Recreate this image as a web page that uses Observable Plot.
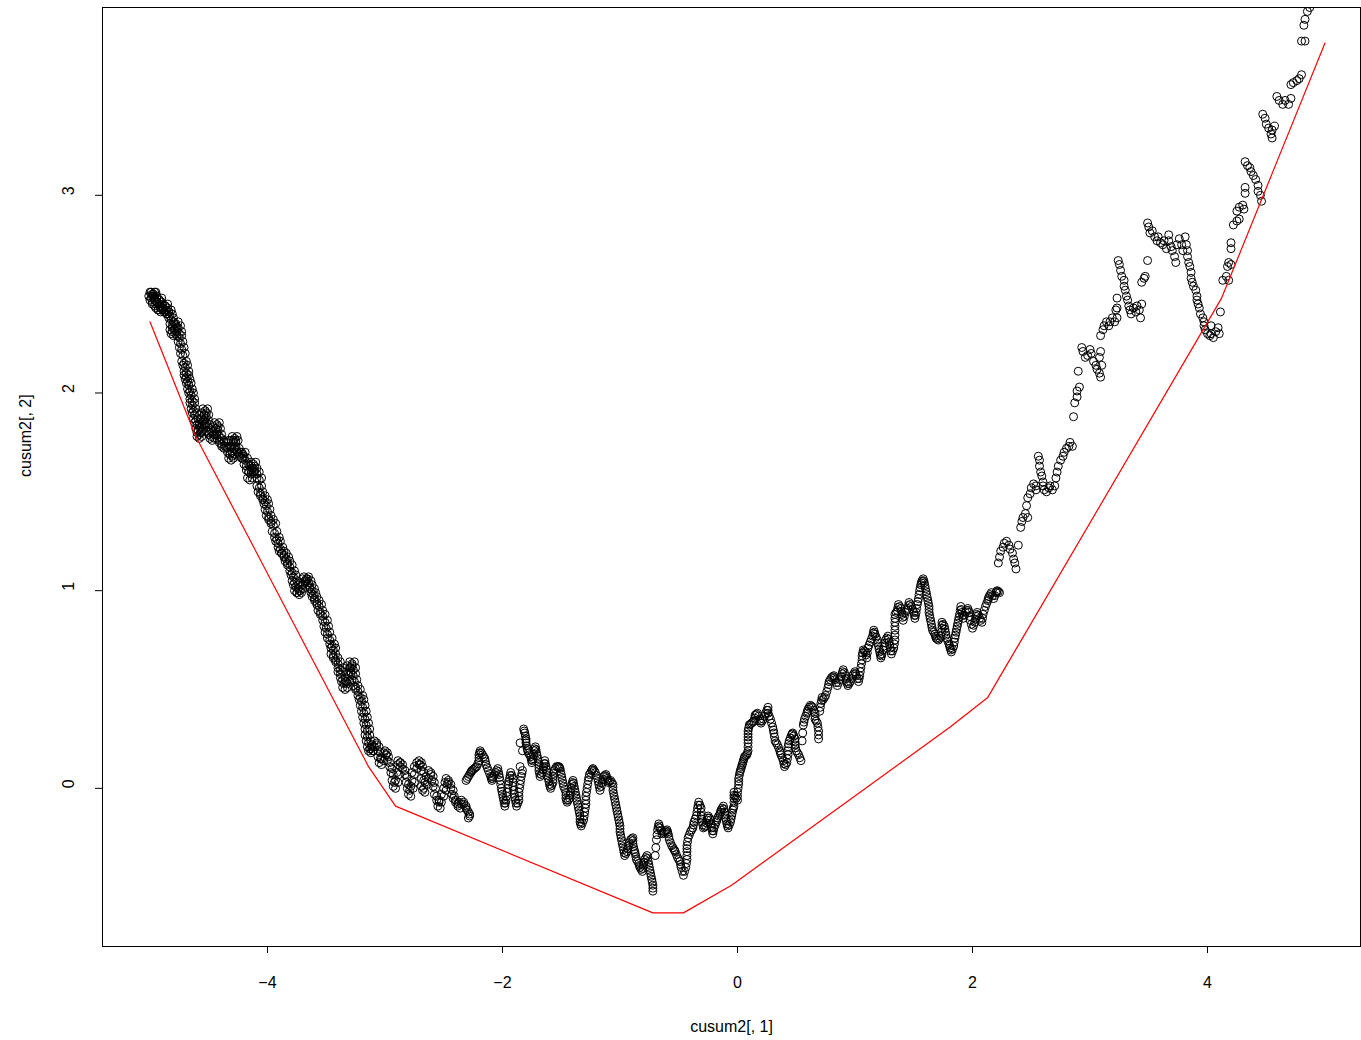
<!DOCTYPE html>
<html><head><meta charset="utf-8">
<script src="https://cdn.jsdelivr.net/npm/d3@7"></script>
<script src="https://cdn.jsdelivr.net/npm/@observablehq/plot@0.6"></script>
<style>body{margin:0;background:#fff}</style>
</head><body><div id="chart"></div>
<script>
// cusum2[,1], cusum2[,2], in order along the walk
const segA = [[-5.01,2.49],[-5.00,2.51],[-4.99,2.51],[-4.98,2.49],[-5.00,2.47],[-4.98,2.45],[-4.96,2.47],[-4.94,2.48],[-4.94,2.46],[-4.95,2.43],[-4.93,2.42],[-4.91,2.44],[-4.89,2.45],[-4.89,2.43],[-4.88,2.41],[-4.86,2.42],[-4.85,2.40],[-4.84,2.38],[-4.83,2.35],[-4.83,2.32],[-4.82,2.30],[-4.81,2.33],[-4.80,2.36],[-4.78,2.34],[-4.77,2.31],[-4.77,2.29],[-4.76,2.26],[-4.75,2.23],[-4.74,2.20],[-4.73,2.16],[-4.72,2.14],[-4.71,2.11],[-4.71,2.09],[-4.70,2.07],[-4.69,2.05],[-4.68,2.02],[-4.67,2.00],[-4.66,1.97],[-4.66,1.95],[-4.65,1.92],[-4.64,1.90],[-4.63,1.87],[-4.62,1.85],[-4.61,1.82],[-4.60,1.80],[-4.60,1.78],[-4.59,1.81],[-4.58,1.84],[-4.57,1.87],[-4.56,1.90],[-4.55,1.92],[-4.54,1.89],[-4.54,1.86],[-4.53,1.84],[-4.52,1.81],[-4.50,1.79],[-4.49,1.77],[-4.47,1.80],[-4.46,1.83],[-4.45,1.85],[-4.44,1.82],[-4.43,1.79],[-4.43,1.77],[-4.41,1.75],[-4.39,1.73],[-4.37,1.76],[-4.36,1.73],[-4.34,1.70],[-4.33,1.67],[-4.32,1.69],[-4.31,1.73],[-4.31,1.76],[-4.30,1.78],[-4.29,1.76],[-4.28,1.72],[-4.26,1.70],[-4.24,1.68],[-4.23,1.70],[-4.21,1.67],[-4.20,1.64],[-4.18,1.61],[-4.17,1.57],[-4.16,1.60],[-4.15,1.63],[-4.14,1.65],[-4.13,1.62],[-4.11,1.60],[-4.09,1.57],[-4.09,1.53],[-4.08,1.50],[-4.06,1.48],[-4.04,1.46],[-4.03,1.44],[-4.02,1.41],[-4.01,1.38],[-3.99,1.36],[-3.97,1.34],[-3.96,1.30],[-3.94,1.27],[-3.93,1.25],[-3.91,1.22],[-3.90,1.20],[-3.88,1.19],[-3.86,1.17],[-3.85,1.15],[-3.83,1.13],[-3.81,1.10],[-3.80,1.08],[-3.79,1.05],[-3.78,1.03],[-3.77,1.00],[-3.75,0.99],[-3.74,1.01],[-3.72,1.04],[-3.70,1.06],[-3.69,1.07],[-3.67,1.05],[-3.66,1.03],[-3.64,1.01],[-3.63,0.99],[-3.62,0.97],[-3.60,0.95],[-3.58,0.93],[-3.57,0.90],[-3.55,0.88],[-3.53,0.85],[-3.52,0.82],[-3.51,0.79],[-3.49,0.76],[-3.47,0.73],[-3.46,0.71],[-3.46,0.68],[-3.44,0.66],[-3.42,0.64],[-3.40,0.61],[-3.40,0.59],[-3.38,0.56],[-3.37,0.54],[-3.36,0.51],[-3.34,0.54],[-3.33,0.59],[-3.32,0.62],[-3.30,0.64],[-3.29,0.61],[-3.29,0.58],[-3.28,0.55],[-3.27,0.52],[-3.25,0.50],[-3.23,0.47],[-3.22,0.45],[-3.21,0.42],[-3.20,0.39],[-3.19,0.36],[-3.18,0.33],[-3.17,0.30],[-3.17,0.27],[-3.16,0.24],[-3.15,0.21],[-3.14,0.19],[-3.12,0.20],[-3.11,0.22],[-3.09,0.24],[-3.07,0.22],[-3.06,0.19],[-3.06,0.16],[-3.05,0.13],[-3.03,0.15],[-3.01,0.18],[-3.00,0.19],[-2.99,0.17],[-2.98,0.14],[-2.96,0.11],[-2.95,0.08],[-2.94,0.04],[-2.93,0.01],[-2.91,0.04],[-2.90,0.08],[-2.89,0.12],[-2.89,0.14],[-2.87,0.13],[-2.85,0.10],[-2.83,0.07],[-2.82,0.03],[-2.81,0.00],[-2.80,-0.03],[-2.78,0.01],[-2.77,0.04],[-2.77,0.08],[-2.75,0.11],[-2.73,0.13],[-2.71,0.14],[-2.70,0.12],[-2.69,0.09],[-2.69,0.05],[-2.69,0.01],[-2.68,-0.01],[-2.66,0.03],[-2.65,0.06],[-2.63,0.09],[-2.61,0.07],[-2.60,0.04],[-2.59,0.01],[-2.58,-0.03],[-2.56,-0.06],[-2.55,-0.09],[-2.54,-0.06],[-2.52,-0.03],[-2.50,0.00],[-2.49,0.03],[-2.48,0.05],[-2.46,0.03],[-2.44,0.00],[-2.43,-0.03],[-2.42,-0.05],[-2.40,-0.07],[-2.38,-0.09],[-2.37,-0.07],[-2.35,-0.06],[-2.33,-0.08],[-2.31,-0.10],[-2.29,-0.12],[-2.29,-0.15]];
const segA2 = [[-4.99,2.48],[-4.98,2.50],[-4.97,2.50],[-4.96,2.48],[-4.98,2.46],[-4.96,2.44],[-4.94,2.46],[-4.92,2.47],[-4.92,2.45],[-4.93,2.42],[-4.91,2.41],[-4.89,2.43],[-4.87,2.44],[-4.87,2.42],[-4.86,2.40],[-4.84,2.41],[-4.83,2.39],[-4.82,2.37],[-4.81,2.34],[-4.81,2.31],[-4.80,2.29],[-4.79,2.32],[-4.78,2.35],[-4.76,2.33],[-4.75,2.30],[-4.75,2.28],[-4.74,2.25],[-4.73,2.22],[-4.72,2.19],[-4.71,2.15],[-4.70,2.13],[-4.69,2.10],[-4.69,2.08],[-4.68,2.06],[-4.67,2.04],[-4.66,2.01],[-4.65,1.99],[-4.64,1.96],[-4.64,1.94],[-4.63,1.91],[-4.62,1.89],[-4.61,1.86],[-4.60,1.84],[-4.59,1.81],[-4.58,1.79],[-4.58,1.77],[-4.57,1.80],[-4.56,1.83],[-4.55,1.86],[-4.54,1.89],[-4.53,1.91],[-4.52,1.88],[-4.52,1.85],[-4.51,1.83],[-4.50,1.80],[-4.48,1.78],[-4.47,1.76],[-4.45,1.79],[-4.44,1.82],[-4.43,1.84],[-4.42,1.81],[-4.41,1.78],[-4.41,1.76],[-4.39,1.74],[-4.37,1.72],[-4.35,1.75],[-4.34,1.72],[-4.32,1.69],[-4.31,1.66],[-4.30,1.68],[-4.29,1.72],[-4.29,1.75],[-4.28,1.77],[-4.27,1.75],[-4.26,1.71],[-4.24,1.69],[-4.22,1.67],[-4.21,1.69],[-4.19,1.66],[-4.18,1.63],[-4.16,1.60],[-4.15,1.56],[-4.14,1.59],[-4.13,1.62],[-4.12,1.64],[-4.11,1.61],[-4.09,1.59],[-4.07,1.56],[-4.07,1.52],[-4.06,1.49],[-4.04,1.47],[-4.02,1.45],[-4.01,1.43],[-4.00,1.40],[-3.99,1.37],[-3.97,1.35],[-3.95,1.33],[-3.94,1.29],[-3.92,1.26],[-3.91,1.24],[-3.89,1.21],[-3.88,1.19],[-3.86,1.18],[-3.84,1.16],[-3.83,1.14],[-3.81,1.12],[-3.79,1.09],[-3.78,1.07],[-3.77,1.04],[-3.76,1.02],[-3.75,0.99],[-3.73,0.98],[-3.72,1.00],[-3.70,1.03],[-3.68,1.05],[-3.67,1.06],[-3.65,1.04],[-3.64,1.02],[-3.62,1.00],[-3.61,0.98],[-3.60,0.96],[-3.58,0.94],[-3.56,0.92],[-3.55,0.89],[-3.53,0.87],[-3.51,0.84],[-3.50,0.81],[-3.49,0.78],[-3.47,0.75],[-3.45,0.72],[-3.44,0.70],[-3.44,0.67],[-3.42,0.65],[-3.40,0.63],[-3.38,0.60],[-3.38,0.58],[-3.36,0.55],[-3.35,0.53],[-3.34,0.50],[-3.32,0.53],[-3.31,0.58],[-3.30,0.61],[-3.28,0.63],[-3.27,0.60],[-3.27,0.57],[-3.26,0.54],[-3.25,0.51],[-3.23,0.49],[-3.21,0.46],[-3.20,0.44],[-3.19,0.41],[-3.18,0.38],[-3.17,0.35],[-3.16,0.32],[-3.15,0.29],[-3.15,0.26],[-3.14,0.23],[-3.13,0.20],[-3.12,0.18],[-3.10,0.19],[-3.09,0.21],[-3.07,0.23],[-3.05,0.21],[-3.04,0.18],[-3.04,0.15],[-3.03,0.12],[-3.01,0.14],[-2.99,0.17],[-2.98,0.18],[-2.97,0.16],[-2.96,0.13],[-2.94,0.10],[-2.93,0.07],[-2.92,0.03],[-2.91,0.00],[-2.89,0.03],[-2.88,0.07],[-2.87,0.11],[-2.87,0.13],[-2.85,0.12],[-2.83,0.09],[-2.81,0.06],[-2.80,0.02],[-2.79,-0.01],[-2.78,-0.04],[-2.76,0.00],[-2.75,0.03],[-2.75,0.07],[-2.73,0.10],[-2.71,0.12],[-2.69,0.13],[-2.68,0.11],[-2.67,0.08],[-2.67,0.04],[-2.67,0.00],[-2.66,-0.02],[-2.64,0.02],[-2.63,0.05],[-2.61,0.08],[-2.59,0.06],[-2.58,0.03],[-2.57,0.00],[-2.56,-0.04],[-2.54,-0.07],[-2.53,-0.10],[-2.52,-0.07],[-2.50,-0.04],[-2.48,-0.01],[-2.47,0.02],[-2.46,0.04],[-2.44,0.02],[-2.42,-0.01],[-2.41,-0.04],[-2.40,-0.06],[-2.38,-0.08],[-2.36,-0.10],[-2.35,-0.08],[-2.33,-0.07],[-2.31,-0.09],[-2.30,-0.11],[-2.28,-0.13],[-2.28,-0.14]];
const segA3 = [[-4.97,2.49],[-4.96,2.51],[-4.95,2.51],[-4.94,2.49],[-4.96,2.47],[-4.94,2.45],[-4.92,2.47],[-4.90,2.48],[-4.90,2.46],[-4.91,2.43],[-4.89,2.42],[-4.87,2.44],[-4.85,2.45],[-4.85,2.43],[-4.84,2.41],[-4.82,2.42],[-4.81,2.40],[-4.80,2.38],[-4.79,2.35],[-4.79,2.32],[-4.78,2.30],[-4.77,2.33],[-4.76,2.36],[-4.74,2.34],[-4.73,2.31],[-4.73,2.29],[-4.72,2.26],[-4.71,2.23],[-4.70,2.20],[-4.69,2.16],[-4.68,2.14],[-4.67,2.11],[-4.67,2.09],[-4.66,2.07],[-4.65,2.05],[-4.64,2.02],[-4.63,2.00],[-4.62,1.97],[-4.62,1.95],[-4.61,1.92],[-4.60,1.90],[-4.59,1.87],[-4.58,1.85],[-4.57,1.82],[-4.56,1.80],[-4.56,1.78],[-4.55,1.81],[-4.54,1.84],[-4.53,1.87],[-4.52,1.90],[-4.51,1.92],[-4.50,1.89],[-4.50,1.86],[-4.49,1.84],[-4.48,1.81],[-4.46,1.79],[-4.45,1.77],[-4.43,1.80],[-4.42,1.83],[-4.41,1.85],[-4.40,1.82],[-4.39,1.79],[-4.39,1.77],[-4.37,1.75],[-4.35,1.73],[-4.33,1.76],[-4.32,1.73],[-4.30,1.70],[-4.29,1.67],[-4.28,1.69],[-4.27,1.73],[-4.27,1.76],[-4.26,1.78],[-4.25,1.76],[-4.24,1.72],[-4.22,1.70],[-4.20,1.68],[-4.19,1.70],[-4.17,1.67],[-4.16,1.64],[-4.14,1.61],[-4.13,1.57],[-4.12,1.60],[-4.11,1.63],[-4.10,1.65],[-4.09,1.62],[-4.07,1.60],[-4.05,1.57],[-4.05,1.53],[-4.04,1.50],[-4.02,1.48],[-4.00,1.46],[-3.99,1.44],[-3.98,1.41],[-3.97,1.38],[-3.95,1.36],[-3.93,1.34],[-3.92,1.30],[-3.90,1.27],[-3.89,1.25],[-3.87,1.22],[-3.86,1.20],[-3.84,1.19],[-3.82,1.17],[-3.81,1.15],[-3.79,1.13],[-3.77,1.10],[-3.76,1.08],[-3.75,1.05],[-3.74,1.03],[-3.73,1.00],[-3.71,0.99],[-3.70,1.01],[-3.68,1.04],[-3.66,1.06],[-3.65,1.07],[-3.63,1.05],[-3.62,1.03],[-3.60,1.01],[-3.59,0.99],[-3.58,0.97],[-3.56,0.95],[-3.54,0.93],[-3.53,0.90],[-3.51,0.88],[-3.49,0.85],[-3.48,0.82],[-3.47,0.79],[-3.45,0.76],[-3.43,0.73],[-3.42,0.71],[-3.42,0.68],[-3.40,0.66],[-3.38,0.64],[-3.36,0.61],[-3.36,0.59],[-3.34,0.56],[-3.33,0.54],[-3.32,0.51],[-3.30,0.54],[-3.29,0.59],[-3.28,0.62],[-3.26,0.64],[-3.25,0.61],[-3.25,0.58],[-3.24,0.55],[-3.23,0.52],[-3.21,0.50],[-3.19,0.47],[-3.18,0.45],[-3.17,0.42],[-3.16,0.39],[-3.15,0.36],[-3.14,0.33],[-3.13,0.30],[-3.13,0.27],[-3.12,0.24],[-3.11,0.21],[-3.10,0.19]];
const segB = [[-2.31,0.04],[-2.29,0.06],[-2.27,0.08],[-2.26,0.09],[-2.24,0.10],[-2.22,0.11],[-2.20,0.14],[-2.20,0.17],[-2.19,0.19],[-2.17,0.17],[-2.15,0.15],[-2.14,0.12],[-2.12,0.09],[-2.10,0.06],[-2.09,0.04],[-2.08,0.06],[-2.06,0.08],[-2.04,0.10],[-2.03,0.07],[-2.02,0.04],[-2.01,0.00],[-2.00,-0.03],[-1.99,-0.06],[-1.98,-0.09],[-1.97,-0.06],[-1.96,-0.02],[-1.95,0.02],[-1.94,0.05],[-1.93,0.08],[-1.91,0.05],[-1.91,0.01],[-1.90,-0.03],[-1.89,-0.06],[-1.88,-0.09],[-1.86,-0.06],[-1.86,-0.02],[-1.85,0.02],[-1.84,0.06],[-1.83,0.09],[-1.85,0.11],[-1.83,0.19],[-1.85,0.23],[-1.82,0.30],[-1.81,0.28],[-1.80,0.25],[-1.80,0.23],[-1.79,0.20],[-1.78,0.18],[-1.76,0.16],[-1.75,0.13],[-1.74,0.15],[-1.73,0.19],[-1.72,0.21],[-1.71,0.18],[-1.70,0.15],[-1.69,0.12],[-1.69,0.09],[-1.68,0.06],[-1.66,0.08],[-1.65,0.11],[-1.64,0.14],[-1.63,0.11],[-1.62,0.08],[-1.61,0.05],[-1.60,0.02],[-1.59,0.00],[-1.57,0.03],[-1.57,0.06],[-1.56,0.09],[-1.54,0.11],[-1.52,0.11],[-1.51,0.10],[-1.50,0.07],[-1.49,0.04],[-1.48,0.01],[-1.46,-0.02],[-1.46,-0.05],[-1.45,-0.07],[-1.43,-0.05],[-1.42,-0.02],[-1.41,0.02],[-1.40,0.04],[-1.39,0.01],[-1.38,-0.02],[-1.37,-0.05],[-1.36,-0.08],[-1.35,-0.11],[-1.34,-0.14],[-1.34,-0.17],[-1.33,-0.19],[-1.31,-0.16],[-1.30,-0.12],[-1.29,-0.08],[-1.29,-0.04],[-1.28,0.00],[-1.27,0.04],[-1.26,0.07],[-1.24,0.09],[-1.23,0.10],[-1.21,0.08],[-1.19,0.05],[-1.18,0.02],[-1.17,-0.01],[-1.15,0.03],[-1.14,0.06],[-1.12,0.07],[-1.11,0.05],[-1.10,0.03],[-1.08,0.04],[-1.06,0.02],[-1.06,-0.01],[-1.05,-0.04],[-1.04,-0.07],[-1.03,-0.10],[-1.02,-0.13],[-1.01,-0.16],[-1.00,-0.19],[-1.00,-0.22],[-0.99,-0.25],[-0.98,-0.28],[-0.97,-0.31],[-0.96,-0.34],[-0.94,-0.32],[-0.93,-0.29],[-0.91,-0.26],[-0.89,-0.25],[-0.89,-0.28],[-0.88,-0.31],[-0.87,-0.33],[-0.86,-0.36],[-0.84,-0.38],[-0.83,-0.40],[-0.81,-0.42],[-0.80,-0.39],[-0.79,-0.36],[-0.77,-0.34],[-0.76,-0.37],[-0.75,-0.40],[-0.74,-0.43],[-0.73,-0.46],[-0.72,-0.49],[-0.72,-0.52],[-0.70,-0.34],[-0.69,-0.26],[-0.68,-0.21],[-0.67,-0.18],[-0.66,-0.20],[-0.64,-0.23],[-0.62,-0.22],[-0.60,-0.21],[-0.59,-0.23],[-0.58,-0.26],[-0.56,-0.29],[-0.54,-0.31],[-0.53,-0.32],[-0.51,-0.35],[-0.49,-0.37],[-0.48,-0.40],[-0.46,-0.44],[-0.44,-0.40],[-0.43,-0.36],[-0.43,-0.32],[-0.43,-0.29],[-0.42,-0.25],[-0.40,-0.22],[-0.38,-0.20],[-0.37,-0.17],[-0.35,-0.14],[-0.34,-0.10],[-0.33,-0.07],[-0.31,-0.10],[-0.31,-0.14],[-0.30,-0.17],[-0.29,-0.20],[-0.27,-0.19],[-0.26,-0.16],[-0.25,-0.14],[-0.23,-0.16],[-0.22,-0.20],[-0.21,-0.23],[-0.20,-0.20],[-0.18,-0.17],[-0.17,-0.15],[-0.15,-0.13],[-0.14,-0.11],[-0.12,-0.09],[-0.11,-0.12],[-0.10,-0.15],[-0.09,-0.18],[-0.08,-0.20],[-0.06,-0.17],[-0.05,-0.14],[-0.04,-0.11],[-0.03,-0.09],[-0.03,-0.05],[-0.03,-0.02],[-0.02,-0.04],[0.00,-0.06],[0.00,-0.02],[0.01,0.02],[0.01,0.05],[0.02,0.08],[0.03,0.10],[0.04,0.12],[0.05,0.14],[0.06,0.16],[0.08,0.17],[0.09,0.19],[0.09,0.23],[0.09,0.26],[0.09,0.29],[0.10,0.32],[0.12,0.33],[0.14,0.34],[0.15,0.37],[0.17,0.38],[0.19,0.35],[0.20,0.33],[0.22,0.35],[0.24,0.38],[0.26,0.41],[0.26,0.38],[0.28,0.35],[0.30,0.31],[0.31,0.28],[0.32,0.24],[0.34,0.22],[0.36,0.19],[0.37,0.17],[0.39,0.14],[0.40,0.11],[0.42,0.13],[0.43,0.17],[0.43,0.21],[0.44,0.24],[0.46,0.27],[0.47,0.28],[0.49,0.25],[0.49,0.22],[0.50,0.19],[0.52,0.17],[0.54,0.14],[0.55,0.24],[0.56,0.32],[0.57,0.35],[0.59,0.38],[0.60,0.40],[0.62,0.42],[0.64,0.41],[0.66,0.38],[0.66,0.35],[0.68,0.33],[0.69,0.29],[0.69,0.25],[0.70,0.39],[0.71,0.43],[0.72,0.46]];
const segB2 = [[-2.30,0.05],[-2.28,0.07],[-2.265,0.085],[-2.25,0.095],[-2.23,0.105],[-2.21,0.125],[-2.20,0.155],[-2.195,0.18],[-2.18,0.18],[-2.16,0.16],[-2.145,0.135],[-2.13,0.105],[-2.11,0.075],[-2.095,0.05],[-2.085,0.05],[-2.07,0.07],[-2.05,0.09],[-2.035,0.085],[-2.025,0.055],[-2.015,0.02],[-2.005,-0.015],[-1.995,-0.045],[-1.985,-0.075],[-1.975,-0.075],[-1.965,-0.04],[-1.955,0.00],[-1.945,0.035],[-1.935,0.065],[-1.92,0.065],[-1.91,0.03],[-1.905,-0.01],[-1.895,-0.045],[-1.885,-0.075],[-1.87,-0.075],[-1.86,-0.04],[-1.855,0.00],[-1.845,0.04],[-1.835,0.075],[-1.815,0.29],[-1.805,0.265],[-1.80,0.24],[-1.795,0.215],[-1.785,0.19],[-1.77,0.17],[-1.755,0.145],[-1.745,0.14],[-1.735,0.17],[-1.725,0.20],[-1.715,0.195],[-1.705,0.165],[-1.695,0.135],[-1.69,0.105],[-1.685,0.075],[-1.67,0.07],[-1.655,0.095],[-1.645,0.125],[-1.635,0.125],[-1.625,0.095],[-1.615,0.065],[-1.605,0.035],[-1.595,0.01],[-1.58,0.015],[-1.57,0.045],[-1.565,0.075],[-1.55,0.10],[-1.53,0.11],[-1.515,0.105],[-1.505,0.085],[-1.495,0.055],[-1.485,0.025],[-1.47,-0.005],[-1.46,-0.035],[-1.455,-0.06],[-1.44,-0.06],[-1.425,-0.035],[-1.415,0.00],[-1.405,0.03],[-1.395,0.025],[-1.385,-0.005],[-1.375,-0.035],[-1.365,-0.065],[-1.355,-0.095],[-1.345,-0.125],[-1.34,-0.155],[-1.335,-0.18],[-1.32,-0.175],[-1.305,-0.14],[-1.295,-0.10],[-1.29,-0.06],[-1.285,-0.02],[-1.275,0.02],[-1.265,0.055],[-1.25,0.08],[-1.235,0.095],[-1.22,0.09],[-1.20,0.065],[-1.185,0.035],[-1.175,0.005],[-1.16,0.01],[-1.145,0.045],[-1.13,0.065],[-1.115,0.06],[-1.105,0.04],[-1.09,0.035],[-1.07,0.03],[-1.06,0.005],[-1.055,-0.025],[-1.045,-0.055],[-1.035,-0.085],[-1.025,-0.115],[-1.015,-0.145],[-1.005,-0.175],[-1.00,-0.205],[-0.995,-0.235],[-0.985,-0.265],[-0.975,-0.295],[-0.965,-0.325],[-0.95,-0.33],[-0.935,-0.305],[-0.92,-0.275],[-0.90,-0.255],[-0.89,-0.265],[-0.885,-0.295],[-0.875,-0.32],[-0.865,-0.345],[-0.85,-0.37],[-0.835,-0.39],[-0.82,-0.41],[-0.805,-0.405],[-0.795,-0.375],[-0.78,-0.35],[-0.765,-0.355],[-0.755,-0.385],[-0.745,-0.415],[-0.735,-0.445],[-0.725,-0.475],[-0.72,-0.505],[-0.695,-0.30],[-0.685,-0.235],[-0.675,-0.195],[-0.665,-0.19],[-0.65,-0.215],[-0.63,-0.225],[-0.61,-0.215],[-0.595,-0.22],[-0.585,-0.245],[-0.57,-0.275],[-0.55,-0.30],[-0.535,-0.315],[-0.52,-0.335],[-0.50,-0.36],[-0.485,-0.385],[-0.47,-0.42],[-0.45,-0.42],[-0.435,-0.38],[-0.43,-0.34],[-0.43,-0.305],[-0.425,-0.27],[-0.41,-0.235],[-0.39,-0.21],[-0.375,-0.185],[-0.36,-0.155],[-0.345,-0.12],[-0.335,-0.085],[-0.32,-0.085],[-0.31,-0.12],[-0.305,-0.155],[-0.295,-0.185],[-0.28,-0.195],[-0.265,-0.175],[-0.255,-0.15],[-0.24,-0.15],[-0.225,-0.18],[-0.215,-0.215],[-0.205,-0.215],[-0.19,-0.185],[-0.175,-0.16],[-0.16,-0.14],[-0.145,-0.12],[-0.13,-0.10],[-0.115,-0.105],[-0.105,-0.135],[-0.095,-0.165],[-0.085,-0.19],[-0.07,-0.185],[-0.055,-0.155],[-0.045,-0.125],[-0.035,-0.10],[-0.03,-0.07],[-0.03,-0.035],[-0.01,-0.05],[0.00,-0.04],[0.005,0.00],[0.01,0.035],[0.015,0.065],[0.025,0.09],[0.035,0.11],[0.045,0.13],[0.055,0.15],[0.07,0.165],[0.085,0.18],[0.09,0.21],[0.09,0.245],[0.09,0.275],[0.095,0.305],[0.11,0.325],[0.13,0.335],[0.145,0.355],[0.16,0.375],[0.18,0.365],[0.195,0.34],[0.21,0.34],[0.23,0.365],[0.25,0.395],[0.26,0.395],[0.27,0.365],[0.29,0.33],[0.305,0.295],[0.315,0.26],[0.33,0.23],[0.35,0.205],[0.365,0.18],[0.38,0.155],[0.395,0.125],[0.41,0.12],[0.425,0.15],[0.43,0.19],[0.435,0.225],[0.45,0.255],[0.465,0.275],[0.48,0.265],[0.49,0.235],[0.495,0.205],[0.51,0.18],[0.53,0.155],[0.555,0.28],[0.565,0.335],[0.58,0.365],[0.595,0.39],[0.61,0.41],[0.63,0.415],[0.65,0.395],[0.66,0.365],[0.67,0.34],[0.685,0.31],[0.69,0.27],[0.705,0.41],[0.715,0.445]];
const segC = [[0.73,0.45],[0.75,0.47],[0.77,0.51],[0.78,0.54],[0.80,0.56],[0.82,0.57],[0.83,0.55],[0.85,0.52],[0.87,0.55],[0.89,0.58],[0.90,0.60],[0.92,0.57],[0.93,0.54],[0.94,0.52],[0.96,0.54],[0.98,0.57],[1.00,0.59],[1.01,0.57],[1.03,0.54],[1.04,0.57],[1.05,0.61],[1.06,0.65],[1.06,0.67],[1.07,0.70],[1.09,0.69],[1.10,0.66],[1.11,0.71],[1.13,0.74],[1.15,0.77],[1.16,0.80],[1.17,0.78],[1.19,0.75],[1.20,0.72],[1.21,0.69],[1.22,0.66],[1.23,0.68],[1.25,0.72],[1.26,0.75],[1.28,0.77],[1.29,0.74],[1.30,0.71],[1.31,0.68],[1.33,0.71],[1.34,0.75],[1.34,0.80],[1.34,0.84],[1.34,0.88],[1.36,0.90],[1.37,0.93],[1.39,0.91],[1.40,0.88],[1.41,0.85],[1.43,0.89],[1.45,0.91],[1.46,0.94],[1.48,0.92],[1.50,0.89],[1.51,0.86],[1.52,0.89],[1.53,0.93],[1.54,0.96],[1.55,1.00],[1.56,1.03],[1.57,1.05],[1.58,1.06],[1.59,1.04],[1.60,1.01],[1.61,0.98],[1.62,0.95],[1.63,0.92],[1.63,0.89],[1.64,0.86],[1.65,0.83],[1.66,0.80],[1.68,0.78],[1.69,0.76],[1.71,0.75],[1.73,0.77],[1.74,0.81],[1.74,0.84],[1.76,0.82],[1.77,0.79],[1.78,0.76],[1.80,0.73],[1.81,0.71],[1.82,0.69],[1.84,0.72],[1.85,0.76],[1.86,0.79],[1.87,0.82],[1.88,0.85],[1.89,0.88],[1.90,0.92],[1.91,0.89],[1.92,0.86],[1.94,0.89],[1.96,0.91],[1.97,0.89],[1.98,0.85],[2.00,0.81],[2.02,0.84],[2.03,0.87],[2.04,0.89],[2.06,0.86],[2.08,0.84],[2.09,0.88],[2.11,0.92],[2.13,0.95],[2.14,0.97],[2.16,0.99],[2.18,0.96],[2.20,0.99],[2.21,1.00],[2.23,0.99]];
const segC2 = [[0.74,0.46],[0.76,0.49],[0.775,0.525],[0.79,0.55],[0.81,0.565],[0.825,0.56],[0.84,0.535],[0.86,0.535],[0.88,0.565],[0.895,0.59],[0.91,0.585],[0.925,0.555],[0.935,0.53],[0.95,0.53],[0.97,0.555],[0.99,0.58],[1.005,0.58],[1.02,0.555],[1.035,0.555],[1.045,0.59],[1.055,0.63],[1.065,0.685],[1.08,0.695],[1.095,0.675],[1.105,0.685],[1.12,0.725],[1.14,0.755],[1.155,0.785],[1.165,0.79],[1.18,0.765],[1.195,0.735],[1.205,0.705],[1.215,0.675],[1.225,0.67],[1.24,0.70],[1.255,0.735],[1.27,0.76],[1.285,0.755],[1.295,0.725],[1.305,0.695],[1.32,0.695],[1.335,0.73],[1.34,0.775],[1.34,0.82],[1.34,0.86],[1.35,0.89],[1.365,0.915],[1.38,0.92],[1.395,0.895],[1.405,0.865],[1.42,0.87],[1.44,0.90],[1.455,0.925],[1.47,0.93],[1.49,0.905],[1.505,0.875],[1.515,0.875],[1.525,0.91],[1.535,0.945],[1.545,0.98],[1.555,1.015],[1.565,1.04],[1.585,1.05],[1.595,1.025],[1.605,0.995],[1.615,0.965],[1.625,0.935],[1.63,0.905],[1.635,0.875],[1.645,0.845],[1.655,0.815],[1.67,0.79],[1.685,0.77],[1.70,0.755],[1.72,0.76],[1.735,0.79],[1.74,0.825],[1.75,0.83],[1.765,0.805],[1.775,0.775],[1.79,0.745],[1.805,0.72],[1.815,0.70],[1.83,0.705],[1.845,0.74],[1.855,0.775],[1.865,0.805],[1.875,0.835],[1.885,0.865],[1.895,0.90],[1.905,0.905],[1.915,0.875],[1.93,0.875],[1.95,0.90],[1.965,0.90],[1.975,0.87],[1.99,0.83],[2.01,0.825],[2.025,0.855],[2.035,0.88],[2.05,0.875],[2.07,0.85],[2.085,0.86],[2.10,0.90],[2.12,0.935],[2.135,0.96],[2.15,0.98],[2.17,0.975],[2.19,0.975],[2.205,0.995],[2.22,0.995]];
const segD = [[2.22,1.14],[2.23,1.17],[2.24,1.20],[2.26,1.22],[2.27,1.24],[2.29,1.25],[2.31,1.23],[2.32,1.21],[2.34,1.19],[2.35,1.16],[2.36,1.14],[2.37,1.11],[2.39,1.23],[2.41,1.32],[2.42,1.35],[2.43,1.37],[2.45,1.39],[2.47,1.37],[2.46,1.43],[2.47,1.47],[2.49,1.49],[2.50,1.52],[2.52,1.54],[2.54,1.53],[2.54,1.51],[2.56,1.68],[2.57,1.66],[2.57,1.63],[2.58,1.60],[2.59,1.58],[2.60,1.55],[2.60,1.53],[2.61,1.51],[2.63,1.50],[2.65,1.52],[2.66,1.53],[2.68,1.51],[2.70,1.53],[2.71,1.57],[2.72,1.60],[2.73,1.63],[2.75,1.66],[2.77,1.68],[2.78,1.70],[2.80,1.72],[2.82,1.73],[2.83,1.75],[2.85,1.73],[2.86,1.88],[2.87,1.95],[2.89,1.98],[2.89,2.01],[2.91,2.03],[2.90,2.11],[2.93,2.23],[2.94,2.21],[2.96,2.18],[2.98,2.19],[3.00,2.22],[3.01,2.20],[3.03,2.16],[3.05,2.14],[3.06,2.12],[3.08,2.10],[3.09,2.08],[3.10,2.14],[3.08,2.18],[3.09,2.21],[3.09,2.29],[3.11,2.32],[3.12,2.34],[3.14,2.36],[3.16,2.34],[3.17,2.36],[3.19,2.38],[3.21,2.36],[3.23,2.38],[3.23,2.43],[3.23,2.48],[3.22,2.42],[3.24,2.67],[3.25,2.65],[3.26,2.62],[3.27,2.59],[3.29,2.57],[3.29,2.54],[3.30,2.52],[3.31,2.49],[3.32,2.47],[3.33,2.44],[3.34,2.42],[3.35,2.40],[3.37,2.43],[3.39,2.41],[3.40,2.44],[3.42,2.42],[3.44,2.45],[3.43,2.38],[3.44,2.56],[3.46,2.58],[3.47,2.59],[3.49,2.67],[3.49,2.86],[3.50,2.84],[3.51,2.81],[3.53,2.82],[3.55,2.79],[3.57,2.77],[3.58,2.79],[3.60,2.76],[3.62,2.75],[3.63,2.77],[3.65,2.73],[3.67,2.77],[3.67,2.80],[3.69,2.74],[3.70,2.72],[3.72,2.69],[3.73,2.66],[3.74,2.75],[3.76,2.78],[3.78,2.75],[3.79,2.72],[3.81,2.79],[3.82,2.75],[3.83,2.72],[3.83,2.69],[3.84,2.66],[3.85,2.64],[3.86,2.61],[3.86,2.58],[3.87,2.56],[3.88,2.54],[3.90,2.52],[3.91,2.49],[3.91,2.47],[3.92,2.45],[3.93,2.43],[3.94,2.40],[3.96,2.38],[3.97,2.36],[3.97,2.34],[3.98,2.32],[4.00,2.30],[4.02,2.29],[4.03,2.30],[4.05,2.28],[4.07,2.31],[4.09,2.33],[4.10,2.30],[4.03,2.34],[4.11,2.41],[4.13,2.57],[4.16,2.59],[4.18,2.57],[4.17,2.64],[4.18,2.66],[4.20,2.65],[4.20,2.73],[4.20,2.76],[4.22,2.85],[4.25,2.87],[4.27,2.88],[4.25,2.92],[4.27,2.94],[4.30,2.95],[4.31,2.93],[4.32,3.04],[4.32,3.01],[4.32,3.17],[4.34,3.15],[4.36,3.14],[4.37,3.12],[4.39,3.10],[4.41,3.08],[4.43,3.05],[4.43,3.02],[4.45,3.00],[4.46,2.97],[4.47,3.41],[4.49,3.39],[4.50,3.36],[4.52,3.34],[4.54,3.31],[4.55,3.33],[4.57,3.35],[4.55,3.29],[4.59,3.50],[4.61,3.48],[4.64,3.46],[4.66,3.48],[4.69,3.46],[4.71,3.49],[4.71,3.56],[4.73,3.57],[4.76,3.58],[4.78,3.59],[4.80,3.61],[4.80,3.78],[4.83,3.78],[4.82,3.86],[4.83,3.89],[4.85,3.93],[4.87,3.95]];
// red line
const redX = [-5.00, -4.61, -3.14, -2.91, -0.72, -0.46, -0.05, 1.81, 2.13, 4.12, 5.00];
const redY = [2.36, 1.78, 0.11, -0.09, -0.63, -0.63, -0.49, 0.31, 0.46, 2.48, 3.77];
const xTicks = [-4, -2, 0, 2, 4];
const yTicks = [0, 1, 2, 3];
const xLabel = "cusum2[, 1]";
const yLabel = "cusum2[, 2]";

const points = [...segA, ...segA2, ...segA3, ...segB, ...segB2, ...segC, ...segC2, ...segD].map(([x, y]) => ({x, y}));
const redLine = redX.map((x, i) => ({x, y: redY[i]}));
const fmt = d => (d < 0 ? "\u2212" + Math.abs(d) : String(d));

const chart = Plot.plot({
  width: 1361, height: 1040,
  marginLeft: 102, marginRight: 1, marginTop: 7, marginBottom: 94,
  style: {fontFamily: "'Liberation Sans', Arial, Helvetica, sans-serif", fontSize: "16px", background: "white", color: "black"},
  x: {domain: [-5.404, 5.302]},
  y: {domain: [-0.80, 3.95]},
  marks: [
    Plot.axisX({ticks: xTicks, tickSize: 7, tickFormat: () => "", label: null, stroke: "black"}),
    Plot.axisY({ticks: yTicks, tickSize: 7, tickFormat: () => "", label: null, stroke: "black"}),
    Plot.text(xTicks, {x: d => d, frameAnchor: "bottom", dy: 41, text: fmt, fontSize: 16, fill: "black"}),
    Plot.text(yTicks, {y: d => d, frameAnchor: "left", dx: -34, rotate: -90, text: fmt, fontSize: 16, fill: "black"}),
    Plot.text([xLabel], {frameAnchor: "bottom", dy: 85, text: d => d, fontSize: 16, fill: "black"}),
    Plot.text([yLabel], {frameAnchor: "left", dx: -77, rotate: -90, text: d => d, fontSize: 16, fill: "black"}),
    Plot.dot(points, {x: "x", y: "y", r: 4, stroke: "black", strokeWidth: 1, fill: "none", clip: true}),
    Plot.line(redLine, {x: "x", y: "y", stroke: "red", strokeWidth: 1.2}),
    Plot.frame({stroke: "black", strokeWidth: 1})
  ]
});
document.getElementById("chart").appendChild(chart);
</script>
</body></html>
